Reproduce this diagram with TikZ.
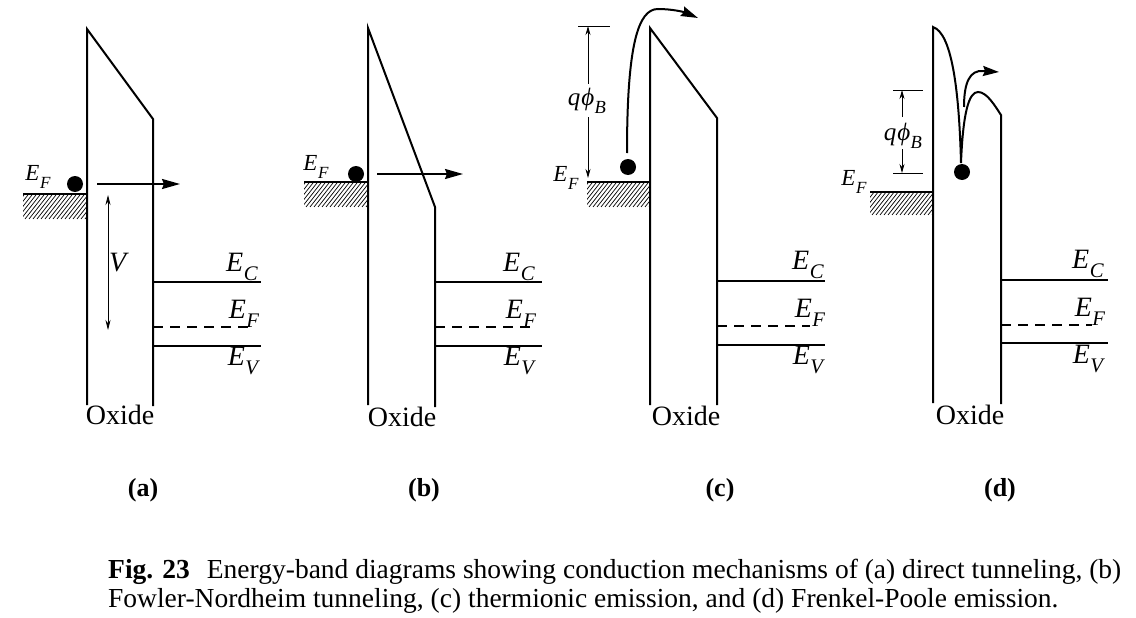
\documentclass[tikz,border=0pt]{standalone}
\usepackage{fontspec}
\setmainfont{Liberation Serif}
\usetikzlibrary{arrows.meta}
\newcommand\El[1]{\textit{E}\kern0.5pt\raisebox{-0.32em}{\scalebox{0.74}{\textit{#1}}}}
\newcommand\qphi{\textit{q}\kern1pt\textit{ϕ}\kern0.3pt\raisebox{-0.3em}{\scalebox{0.74}{\textit{B}}}}
\newcommand\hatchbox[4]{%
  \begin{scope}
    \clip (#1,#2) rectangle (#3,#4);
    \foreach \k in {0,...,28} \draw[hatchline] ({#1-30+\k*4},#4) -- ++(30,-38);
  \end{scope}}
\tikzset{
  band/.style={line width=2pt},
  hatchline/.style={line width=0.7pt},
  dashband/.style={line width=2pt, dash pattern=on 10pt off 7pt},
  dimline/.style={line width=0.8pt},
  dimtip/.style={-{Stealth[length=9pt,width=5pt]}},
  carrier/.style={line width=2pt,-{Stealth[length=18pt,width=10pt,inset=2pt]}},
  dot/.style={circle,fill=black,inner sep=0pt,minimum size=16pt},
  big/.style={font=\fontsize{28}{32}\selectfont, inner sep=0pt},
  small/.style={font=\fontsize{23}{27}\selectfont, inner sep=0pt},
  mid/.style={font=\fontsize{25}{29}\selectfont, inner sep=0pt},
  lab/.style={font=\fontsize{26}{30}\selectfont\bfseries, inner sep=0pt},
  capt/.style={font=\fontsize{27.5}{32}\selectfont, inner sep=0pt},
}
\begin{document}
\begin{tikzpicture}[x=1pt,y=-1pt]
\useasboundingbox (0,0) rectangle (1136,618);
% ================= (a)
\draw[band] (87,405) -- (87,29) -- (153,119) -- (153,406);
\draw[band] (23,194) -- (87,194);
\hatchbox{23}{194}{87}{219}
\node[dot] (dA) at (75,184) {};
\coordinate (aS) at (97,184); \coordinate (aE) at (180,184);
\draw[carrier] (aS) -- (aE);
\coordinate (vT) at (108,195); \coordinate (vB) at (108,330);
\draw[dimline,{Stealth[length=10pt,width=5pt]}-{Stealth[length=10pt,width=5pt]}] (vT) -- (vB);
\node[big] (vA) at (119,263) {\textit{V}};
\node[small] (efA) at (38,177) {\El{F}};
\draw[band] (153,282) -- (261,282);
\draw[dashband] (153,327) -- (250,327);
\draw[band] (153,346) -- (261,346);
\node[big] (ecA) at (242,267) {\El{C}};
\node[big] (ef2A) at (244,314) {\El{F}};
\node[big] (evA) at (244,361) {\El{V}};
\node[big] (oxA) at (120,415) {Oxide};
\node[lab] (la) at (143,490) {(a)};
% ================= (b)
\draw[band] (368,405) -- (368,28) -- (435,207) -- (435,407);
\draw[band] (304,182) -- (368,182);
\hatchbox{304}{182}{368}{207}
\node[dot] (dB) at (356,174) {};
\coordinate (bS) at (377,174); \coordinate (bE) at (463,174);
\draw[carrier] (bS) -- (bE);
\node[small] (efB) at (316,167) {\El{F}};
\draw[band] (435,282) -- (542,282);
\draw[dashband] (435,327) -- (530,327);
\draw[band] (435,346) -- (542,346);
\node[big] (ecB) at (519,267) {\El{C}};
\node[big] (ef2B) at (521,314) {\El{F}};
\node[big] (evB) at (520,361) {\El{V}};
\node[big] (oxB) at (402,417) {Oxide};
\node[lab] (lb) at (424,490) {(b)};
% ================= (c)
\draw[band] (650,405) -- (650,28) -- (717,118) -- (717,405);
\draw[band] (587,182) -- (650,182);
\hatchbox{587}{182}{650}{207}
\node[dot] (dC) at (628,167) {};
\coordinate (cS) at (627,153); \coordinate (cE) at (698,18);
\draw[line width=2pt,-{Stealth[length=17pt,width=10pt,inset=2pt]}] (cS) .. controls (627,45) and (638,9) .. (658,9) .. controls (672,9) and (684,12) .. (cE);
\draw[dimline] (578,26) -- (610,26);
\coordinate (qcT) at (588,26); \coordinate (qcB) at (588,178);
\draw[dimline,dimtip] (588,84) -- (qcT);
\draw[dimline,dimtip] (588,117) -- (qcB);
\node[mid] (qC) at (587,101) {\qphi};
\node[small] (efC) at (566,178) {\El{F}};
\draw[band] (717,281) -- (825,281);
\draw[dashband] (717,326) -- (810,326);
\draw[band] (717,345) -- (825,345);
\node[big] (ecC) at (808,265) {\El{C}};
\node[big] (ef2C) at (810,313) {\El{F}};
\node[big] (evC) at (809,360) {\El{V}};
\node[big] (oxC) at (686,416) {Oxide};
\node[lab] (lc) at (720,490) {(c)};
% ================= (d)
\draw[band] (933,403) -- (933,27) .. controls (951,33) and (959,85) .. (961,163)
   .. controls (963,112) and (969,92) .. (978,92) .. controls (987,92) and (995,106) .. (1001,115) -- (1001,404);
\draw[band] (870,192) -- (933,192);
\hatchbox{870}{192}{933}{215}
\node[dot] (dD) at (962,172) {};
\coordinate (dS) at (964,107); \coordinate (dE) at (999,72);
\draw[line width=2pt,-{Stealth[length=16pt,width=10pt,inset=2pt]}] (dS) .. controls (964,82) and (970,70) .. (983,71) -- (dE);
\draw[dimline] (893,90) -- (923,90);
\draw[dimline] (893,173) -- (923,173);
\coordinate (qdT) at (902,90); \coordinate (qdB) at (902,173);
\draw[dimline,dimtip] (902,117) -- (qdT);
\draw[dimline,dimtip] (902,149) -- (qdB);
\node[mid] (qD) at (903,136) {\qphi};
\node[small] (efD) at (854,182) {\El{F}};
\draw[band] (1001,280) -- (1108,280);
\draw[dashband] (1001,325) -- (1092,325);
\draw[band] (1001,343) -- (1108,343);
\node[big] (ecD) at (1088,264) {\El{C}};
\node[big] (ef2D) at (1090,312) {\El{F}};
\node[big] (evD) at (1089,359) {\El{V}};
\node[big] (oxD) at (970,415) {Oxide};
\node[lab] (ld) at (1000,490) {(d)};
% ================= caption
\node[capt,anchor=base west] (cap1) at (108,578) {\textbf{Fig. 23}\hspace{17pt}Energy-band diagrams showing conduction mechanisms of (a) direct tunneling, (b)};
\node[capt,anchor=base west] (cap2) at (108,607) {Fowler-Nordheim tunneling, (c) thermionic emission, and (d) Frenkel-Poole emission.};
\end{tikzpicture}
\end{document}
